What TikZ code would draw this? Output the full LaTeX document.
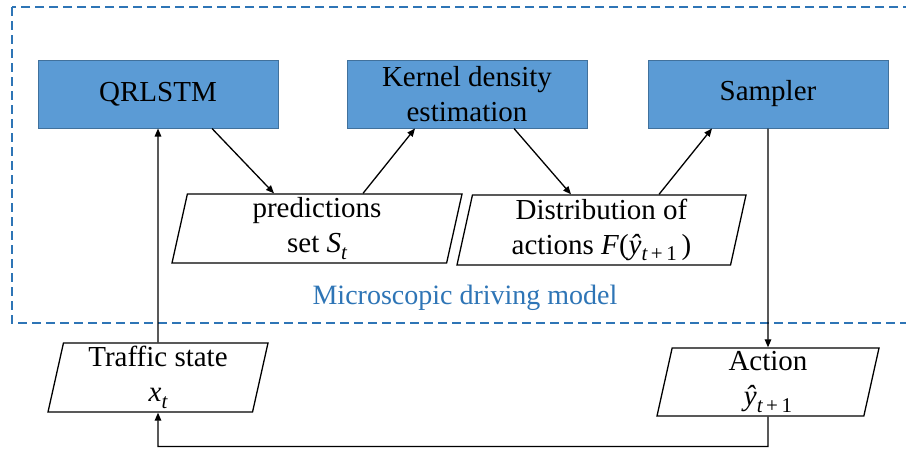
\documentclass[tikz,border=0pt]{standalone}
\usepackage{fontspec}
\setmainfont{Liberation Serif}
\usetikzlibrary{shapes.geometric,arrows.meta}
\definecolor{boxfill}{HTML}{5B9BD5}
\definecolor{boxline}{HTML}{41719C}
\definecolor{dashblue}{HTML}{2E75B6}
\newcommand\mysub[1]{\raisebox{-0.22em}{\fontsize{21}{21}\selectfont\itshape #1}}
\begin{document}
\begin{tikzpicture}[x=1pt,y=-1pt,
  txt/.style={font=\fontsize{29}{35}\selectfont},
  blockbox/.style={txt,draw=boxline,line width=1pt,fill=boxfill,minimum width=240pt,minimum height=68pt,inner sep=0pt,align=center},
  databox/.style={txt,draw=black,line width=1.3pt,shape=trapezium,trapezium left angle=76,trapezium right angle=104,trapezium stretches body,inner sep=0pt,align=center},
  conn/.style={line width=1.3pt,-{Triangle[length=8pt,width=6.5pt]}},
  frame/.style={draw=dashblue,line width=2.5pt,dash pattern=on 9pt off 5pt}]
\clip (0,0) rectangle (906,448);
\useasboundingbox (0,0) rectangle (906,448);
\fill[white] (0,0) rectangle (906,448);
\draw[frame] (12,7) rectangle (930,323);
\node[blockbox] (qr) at (158,94) {QRLSTM};
\node[blockbox] (kde) at (467,94) {Kernel density\\estimation};
\node[blockbox] (samp) at (768,94) {Sampler};
\node[databox,minimum width=290pt,minimum height=69pt] (pred) at (317,228.5) {predictions\\set \textit{S}\mysub{t}};
\node[databox,minimum width=289pt,minimum height=70pt] (dist) at (601.5,230) {Distribution of\\actions \textit{F}(\textit{ŷ}\mysub{t\,\upshape+\,1}\,)};
\node[databox,minimum width=220pt,minimum height=69pt] (traf) at (158,377.5) {Traffic state\\\textit{x}\mysub{t}};
\node[databox,minimum width=222pt,minimum height=68pt] (act) at (768,382) {Action\\\textit{ŷ}\mysub{t\,\upshape+\,1}};
\node[txt,text=dashblue,font=\fontsize{28}{34}\selectfont] (lbl) at (465,298) {Microscopic driving model};
\draw[conn] ([xshift=54pt]qr.south) -- ([xshift=-43pt]pred.north);
\draw[conn] ([xshift=46pt]pred.north) -- ([xshift=-52pt]kde.south);
\draw[conn] ([xshift=47pt]kde.south) -- ([xshift=-30.5pt]dist.north);
\draw[conn] ([xshift=57.5pt]dist.north) -- ([xshift=-56pt]samp.south);
\draw[conn] (samp.south) -- (act.north);
\coordinate (c1) at (768,446.5);
\coordinate (c2) at (158,446.5);
\draw[conn] (act.south) -- (act.south |- c1) -- (c2) -- (traf.south);
\draw[conn] (traf.north) -- (qr.south);
\end{tikzpicture}
\end{document}
